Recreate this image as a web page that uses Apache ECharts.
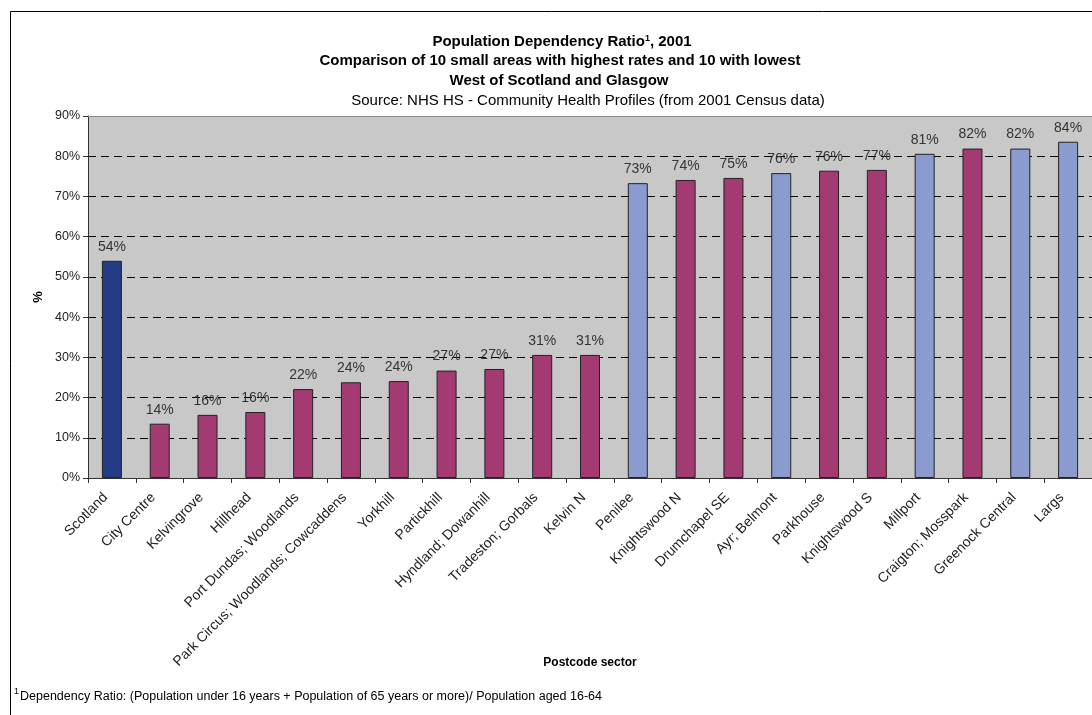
<!DOCTYPE html>
<html>
<head>
<meta charset="utf-8">
<script src="https://cdn.jsdelivr.net/npm/echarts@6/dist/echarts.min.js"></script>
<style>
html,body{margin:0;padding:0;background:#fff;}
#chart{width:1092px;height:715px;}
</style>
</head>
<body>
<div id="chart"></div>
<script>
const categories = ['Scotland','City Centre','Kelvingrove','Hillhead','Port Dundas; Woodlands','Park Circus; Woodlands; Cowcaddens','Yorkhill','Partickhill','Hyndland; Dowanhill','Tradeston; Gorbals','Kelvin N','Penilee','Knightswood N','Drumchapel SE','Ayr; Belmont','Parkhouse','Knightswood S','Millport','Craigton; Mosspark','Greenock Central','Largs'];
const values = [54.0,13.5,15.7,16.4,22.1,23.8,24.1,26.7,27.1,30.6,30.6,73.3,74.1,74.6,75.8,76.4,76.6,80.6,81.9,81.9,83.6];
const groups = ['scot','gla','gla','gla','gla','gla','gla','gla','gla','gla','gla','west','gla','gla','west','gla','gla','west','gla','west','west'];
const yTicks = [0,10,20,30,40,50,60,70,80,90];

const colors = {scot:'#233A85', gla:'#A33B72', west:'#8A9BD0'};
const FONT = '"Liberation Sans", Arial, sans-serif';

const chart = echarts.init(document.getElementById('chart'), null, {renderer:'canvas'});
chart.setOption({
  animation:false,
  backgroundColor:'#fff',
  textStyle:{fontFamily:FONT},
  grid:{left:88, right:0, top:116, bottom:237, show:true, backgroundColor:'#C8C8C8', borderWidth:0},
  xAxis:{
    type:'category', data:categories,
    name:'Postcode sector', nameLocation:'middle', nameGap:179, nameMoveOverlap:false,
    nameTextStyle:{fontFamily:FONT, fontSize:12, fontWeight:'bold', color:'#000'},
    axisLine:{lineStyle:{color:'#333', width:1}},
    axisTick:{show:true, alignWithLabel:false, length:5, lineStyle:{color:'#333'}},
    axisLabel:{rotate:45, interval:0, fontFamily:FONT, fontSize:14, color:'#222', margin:11, padding:[0,9,0,0]}
  },
  yAxis:{
    type:'value', min:0, max:90, interval:10,
    name:'%', nameLocation:'middle', nameGap:43, nameMoveOverlap:false,
    nameTextStyle:{fontFamily:FONT, fontSize:13, fontWeight:'bold', color:'#000'},
    axisLine:{show:true, lineStyle:{color:'#333', width:1}},
    axisTick:{show:true, length:5, lineStyle:{color:'#333'}},
    axisLabel:{fontFamily:FONT, fontSize:12.5, color:'#222', margin:8, formatter: v => yTicks.includes(v) ? v + '%' : ''},
    splitLine:{show:true, lineStyle:{color:'#000', type:[8,5], width:1}}
  },
  series:[{
    type:'bar',
    barWidth:20,
    data: values.map((v,i) => ({value:v, itemStyle:{color:colors[groups[i]], borderColor:'#222', borderWidth:1}})),
    label:{show:true, position:'top', distance:7, fontFamily:FONT, fontSize:14, color:'#333', formatter: p => Math.round(p.value) + '%'},
    markLine:{silent:true, symbol:'none', label:{show:false}, lineStyle:{color:'#8a8a8a', type:'solid', width:1}, data:[{yAxis:90}]}
  }],
  graphic:[
    {type:'rect', shape:{x:10.5, y:11.5, width:1200, height:800}, style:{fill:null, stroke:'#000', lineWidth:1}, silent:true},
    {type:'text', x:562, y:42, style:{text:'Population Dependency Ratio{sup|1}, 2001', font:'bold 15px '+FONT, fill:'#000', textAlign:'center', textVerticalAlign:'middle', rich:{sup:{font:'bold 9px '+FONT, verticalAlign:'top', padding:[0,0,7,0]}}}},
    {type:'text', x:560, y:61, style:{text:'Comparison of 10 small areas with highest rates and 10 with lowest', font:'bold 15px '+FONT, fill:'#000', textAlign:'center', textVerticalAlign:'middle'}},
    {type:'text', x:559, y:81, style:{text:'West of Scotland and Glasgow', font:'bold 15px '+FONT, fill:'#000', textAlign:'center', textVerticalAlign:'middle'}},
    {type:'text', x:588, y:101, style:{text:'Source: NHS HS - Community Health Profiles (from 2001 Census data)', font:'15px '+FONT, fill:'#000', textAlign:'center', textVerticalAlign:'middle'}},
    {type:'text', x:14, y:692, style:{text:'1', font:'9px '+FONT, fill:'#000', textAlign:'left', textVerticalAlign:'middle'}},
    {type:'text', x:20, y:697, style:{text:'Dependency Ratio: (Population under 16 years + Population of 65 years or more)/ Population aged 16-64', font:'12.5px '+FONT, fill:'#000', textAlign:'left', textVerticalAlign:'middle'}}
  ]
});
</script>
</body>
</html>
